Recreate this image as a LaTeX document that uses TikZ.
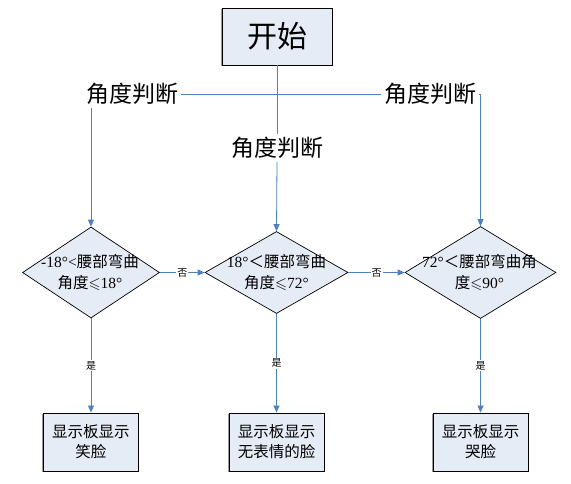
\documentclass[tikz,border=0pt]{standalone}
\usepackage{fontspec}
\usepackage{amssymb}
\setmainfont{Liberation Serif}
\newfontfamily\cjk{Noto Sans CJK SC}
\usetikzlibrary{shapes.geometric,arrows.meta,shadows}
\definecolor{lineblue}{RGB}{79,129,189}
\definecolor{boxfill}{RGB}{230,236,246}

\begin{document}
\begin{tikzpicture}[x=1pt,y=-1pt,
		flow/.style={draw=lineblue, line width=0.8pt},
		arr/.style={flow, -{Triangle[width=6pt,length=7pt]}},
		boxshadow/.style={general shadow={fill=gray!80, shadow xshift=-1.2pt, shadow yshift=-1.2pt}},
		startbox/.style={draw=black, line width=0.9pt, fill=boxfill, boxshadow, minimum width=110pt, minimum height=57pt, inner sep=0pt, font=\cjk\fontsize{30}{32}\selectfont},
		facebox/.style={draw=black, line width=0.9pt, fill=boxfill, boxshadow, minimum width=95pt, minimum height=58pt, inner sep=0pt, align=center, font=\cjk\fontsize{15.5}{20}\selectfont},
		judge/.style={inner sep=3pt, font=\cjk\fontsize{23}{25}\selectfont},
		dia/.style={diamond, draw=black, line width=0.7pt, fill=boxfill, inner sep=0pt},
		diatext/.style={inner sep=0pt, align=center, font=\fontsize{15.5}{21}\selectfont},
		yesno/.style={fill=white, inner sep=1pt, font=\cjk\fontsize{10}{10}\selectfont}]
	
	\newcommand{\Top}{94}% judge row
	\newcommand{\Mid}{272.5}% diamond row
	\newcommand{\Low}{442}% face row
	
	\fill[white] (0,0) rectangle (571,484);
	\useasboundingbox (0,0) rectangle (571,484);
	
	\node[startbox] (start) at (277,36.5) {开始};
	
	\node[judge] (judgeL) at (132,\Top) {角度判断};
	\node[judge] (judgeM) at (277,148) {角度判断};
	\node[judge] (judgeR) at (430,\Top) {角度判断};
	
	% three diamonds
	\node[dia, minimum width=137pt, minimum height=91pt] (dL) at (91,\Mid) {};
	\node[dia, minimum width=143pt, minimum height=82pt] (dM) at (276.5,\Mid) {};
	\node[dia, minimum width=151pt, minimum height=92pt] (dR) at (480.5,\Mid) {};
	
	\node[diatext] (tL) at (90,\Mid) {-18°<{\cjk 腰部弯曲}\\{\cjk 角度}$\leqslant$18°};
	\node[diatext] (tM) at (276.5,\Mid) {18°{\cjk ＜腰部弯曲}\\{\cjk 角度}$\leqslant$72°};
	\node[diatext] (tR) at (479.5,\Mid) {72°{\cjk ＜腰部弯曲角}\\{\cjk 度}$\leqslant$90°};
	
	\node[facebox] (faceL) at (91,\Low) {显示板显示\\笑脸};
	\node[facebox] (faceM) at (276.5,\Low) {显示板显示\\无表情的脸};
	\node[facebox] (faceR) at (480.5,\Low) {显示板显示\\哭脸};
	
	% connectors
	\draw[flow] (judgeL.east) -- (judgeR.west);
	\draw[flow] (start.south) -- (judgeM.north);
	\draw[arr] (judgeM.south) -- (dM.north);
	\draw[arr] (dL.north |- judgeL.south) -- (dL.north);
	\draw[arr] (judgeR.east) -| (dR.north);
	
	\draw[arr] (dL.east) -- node[yesno] (noL) {否} (dM.west);
	\draw[arr] (dM.east) -- node[yesno] (noR) {否} (dR.west);
	
	\draw[arr] (dL.south) -- node[yesno] (yesL) {是} (faceL.north);
	\draw[arr] (dM.south) -- node[yesno] (yesM) {是} (faceM.north);
	\draw[arr] (dR.south) -- node[yesno] (yesR) {是} (faceR.north);
\end{tikzpicture}
\end{document}
